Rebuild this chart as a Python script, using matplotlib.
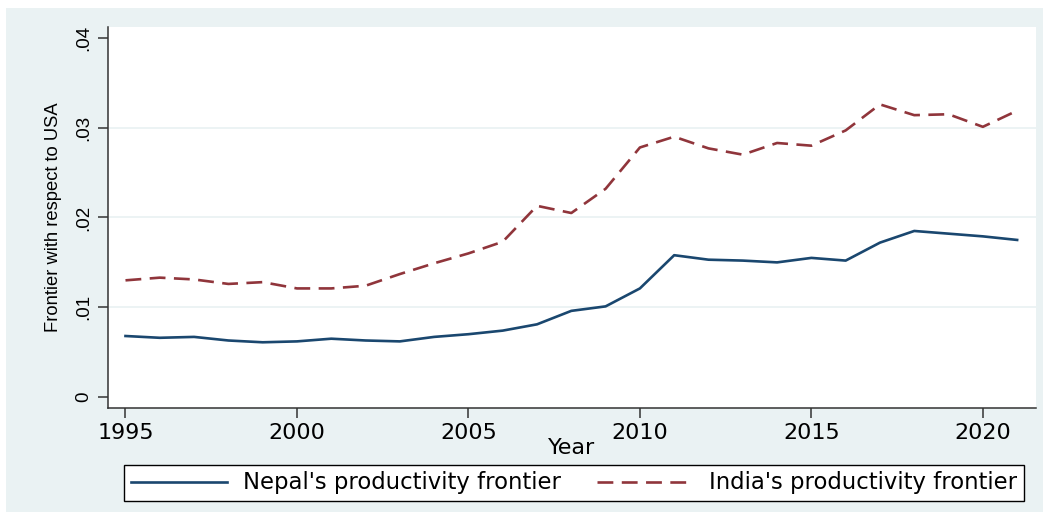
import numpy as np
import matplotlib
matplotlib.use("Agg")
import matplotlib.pyplot as plt
from matplotlib.patches import Rectangle

# values
years = list(range(1995, 2022))
nepal = [0.0068, 0.0066, 0.0067, 0.0063, 0.0061, 0.0062, 0.0065, 0.0063, 0.0062,
         0.0067, 0.0070, 0.0074, 0.0081, 0.0096, 0.0101, 0.0121, 0.0158, 0.0153,
         0.0152, 0.0150, 0.0155, 0.0152, 0.0172, 0.0185, 0.0182, 0.0179, 0.0175]
india = [0.0130, 0.0133, 0.0131, 0.0126, 0.0128, 0.0121, 0.0121, 0.0124, 0.0137,
         0.0149, 0.0160, 0.0173, 0.0213, 0.0205, 0.0232, 0.0278, 0.0290, 0.0277,
         0.0270, 0.0283, 0.0280, 0.0297, 0.0326, 0.0314, 0.0315, 0.0301, 0.0319]
y_ticks = [0, 0.01, 0.02, 0.03, 0.04]
y_tick_labels = ["0", ".01", ".02", ".03", ".04"]
x_ticks = [1995, 2000, 2005, 2010, 2015, 2020]

bg = "#eaf2f3"
navy = "#1a476f"
maroon = "#90353b"
W, H = 1049, 516

fig = plt.figure(figsize=(W / 100, H / 100), dpi=100, facecolor="white")
fig.patches.append(Rectangle((6 / W, 4 / H), 1037 / W, 504 / H, transform=fig.transFigure,
                             facecolor=bg, edgecolor="none", zorder=-10))

ax = fig.add_axes([108 / W, (H - 408) / H, (1036 - 108) / W, (408 - 27) / H])
ax.set_facecolor("white")

for v in [0.01, 0.02, 0.03]:
    ax.axhline(v, color=bg, lw=1.3, zorder=1)

ax.plot(years, nepal, color=navy, lw=1.9, label="Nepal's productivity frontier", zorder=3)
ax.plot(years, india, color=maroon, lw=1.9, linestyle=(0, (6, 3.2)),
        label="India's productivity frontier", zorder=3)

ax.set_xlim(1994.49, 2021.55)
ax.set_ylim(-0.00122, 0.04122)

for s in ["top", "right"]:
    ax.spines[s].set_visible(False)
for s in ["left", "bottom"]:
    ax.spines[s].set_color("#333333")
    ax.spines[s].set_linewidth(1.1)

ax.set_xticks(x_ticks)
ax.set_xticklabels([str(x) for x in x_ticks], fontsize=16, family="DejaVu Sans")
ax.set_yticks(y_ticks)
ax.set_yticklabels(y_tick_labels, rotation=90, va="center", fontsize=13.5,
                   family="Liberation Sans")
ax.tick_params(axis="both", direction="out", length=7, width=1.1, color="#333333")
ax.tick_params(axis="x", pad=4)
ax.tick_params(axis="y", pad=4)

ax.set_xlabel("Year", fontsize=16, family="DejaVu Sans", labelpad=-4)
ax.set_ylabel("Frontier with respect to USA", fontsize=13.2, family="Liberation Sans",
              labelpad=10)

leg = fig.legend(loc="center", ncol=2,
                 bbox_to_anchor=(574 / W, (H - 483) / H),
                 prop={"family": "DejaVu Sans", "size": 16.4}, handlelength=4.2,
                 handletextpad=0.7, columnspacing=1.6, borderaxespad=0, borderpad=0.3,
                 fancybox=False, edgecolor="black", framealpha=1)
leg.get_frame().set_linewidth(1.0)

fig.savefig("out.png", dpi=100, facecolor=fig.get_facecolor())
